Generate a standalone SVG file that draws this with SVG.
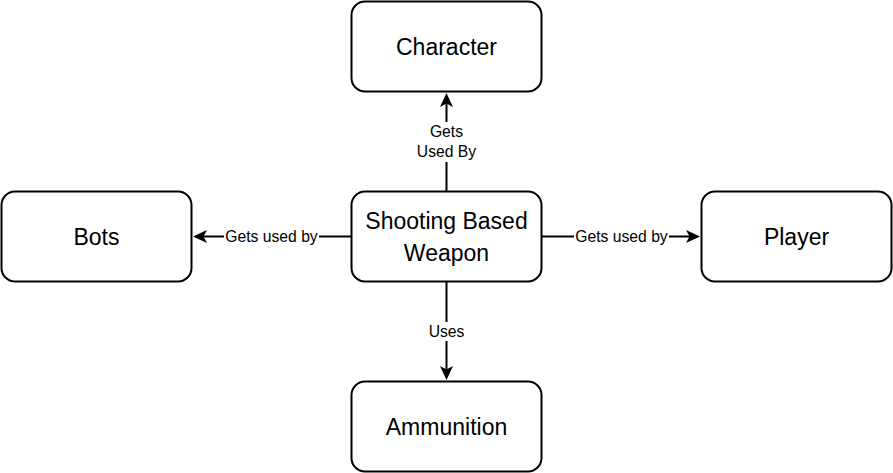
<svg xmlns="http://www.w3.org/2000/svg" width="893" height="473" viewBox="0 0 893 473">
  <defs>
    <marker id="arrow" markerUnits="userSpaceOnUse" orient="auto" viewBox="-15 -8 16 16" refX="-10" refY="0" markerWidth="16" markerHeight="16">
      <path d="M0,0 L-14,-6.5 L-10.5,0 L-14,6.5 Z" fill="#000"/>
    </marker>
  </defs>
  <style>
    .node rect { fill: #fff; stroke: #000; stroke-width: 2; }
    .node text { font-family: "Liberation Sans", Arial, sans-serif; font-size: 23px; fill: #000; text-anchor: middle; }
    .edge line { stroke: #000; stroke-width: 2; fill: none; }
    .lbl-bg { fill: #fff; stroke: none; }
    .lbl { font-family: "Liberation Sans", Arial, sans-serif; font-size: 15.7px; fill: #000; text-anchor: middle; }
  </style>
  <rect x="0" y="0" width="893" height="473" fill="#fff"/>

  <g id="connectors">
    <g class="edge" id="e-character">
      <line x1="446.5" y1="191.5" x2="446.5" y2="103" marker-end="url(#arrow)"/>
      <rect class="lbl-bg" x="415" y="122" width="63" height="40"/>
      <text class="lbl" x="446.5" y="137">Gets</text>
      <text class="lbl" x="446.5" y="157">Used By</text>
    </g>
    <g class="edge" id="e-bots">
      <line x1="351.5" y1="236.5" x2="203" y2="236.5" marker-end="url(#arrow)"/>
      <rect class="lbl-bg" x="224" y="227" width="95" height="19"/>
      <text class="lbl" x="271.5" y="242">Gets used by</text>
    </g>
    <g class="edge" id="e-player">
      <line x1="541.5" y1="236.5" x2="690" y2="236.5" marker-end="url(#arrow)"/>
      <rect class="lbl-bg" x="574" y="227" width="95" height="19"/>
      <text class="lbl" x="621.5" y="242">Gets used by</text>
    </g>
    <g class="edge" id="e-ammo">
      <line x1="446.5" y1="281.5" x2="446.5" y2="370" marker-end="url(#arrow)"/>
      <rect class="lbl-bg" x="427" y="322" width="39" height="19"/>
      <text class="lbl" x="446.5" y="337">Uses</text>
    </g>
  </g>

  <g id="character" class="node">
    <rect x="351.5" y="1.5" width="190" height="90" rx="13.5" ry="13.5"/>
    <text x="446.5" y="54.5">Character</text>
  </g>
  <g id="bots" class="node">
    <rect x="1.5" y="191.5" width="190" height="90" rx="13.5" ry="13.5"/>
    <text x="96.5" y="244.5">Bots</text>
  </g>
  <g id="weapon" class="node">
    <rect x="351.5" y="191.5" width="190" height="90" rx="13.5" ry="13.5"/>
    <text x="446.5" y="229">Shooting Based</text>
    <text x="446.5" y="260.5">Weapon</text>
  </g>
  <g id="player" class="node">
    <rect x="701.5" y="191.5" width="190" height="90" rx="13.5" ry="13.5"/>
    <text x="796.5" y="244.5">Player</text>
  </g>
  <g id="ammunition" class="node">
    <rect x="351.5" y="381.5" width="190" height="90" rx="13.5" ry="13.5"/>
    <text x="446.5" y="434.5">Ammunition</text>
  </g>
</svg>
